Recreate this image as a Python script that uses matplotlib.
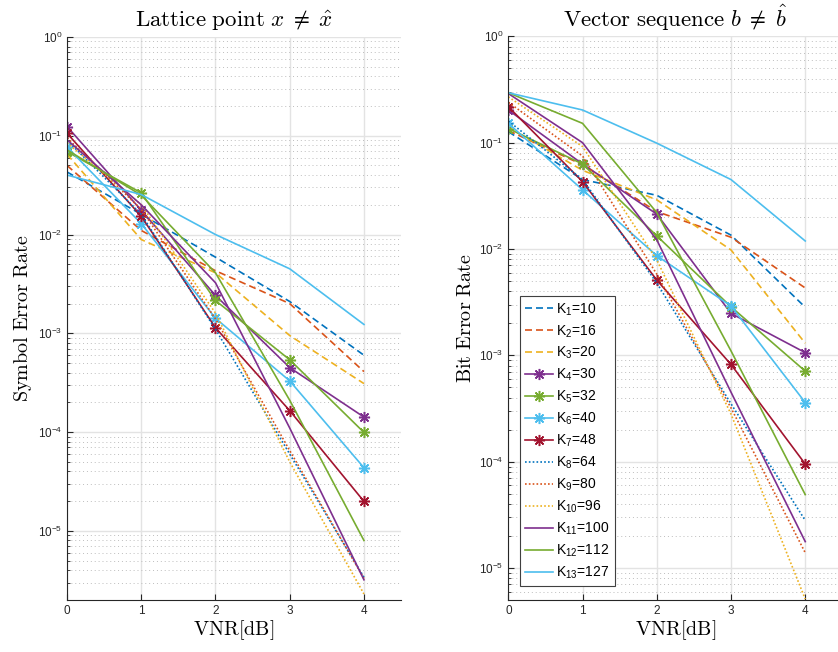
import matplotlib
matplotlib.use('Agg')
import matplotlib.pyplot as plt
from matplotlib.ticker import LogLocator, NullFormatter, FixedLocator

# Eje x: relación volumen-ruido
vnr = [0, 1, 2, 3, 4]
valores_k = [10, 16, 20, 30, 32, 40, 48, 64, 80, 96, 100, 112, 127]

# Tasa de error de símbolo (punto de la red x != x^)
ser_k1 = [0.043, 0.016, 0.0059, 0.0021, 0.0006]
ser_k2 = [0.050, 0.011, 0.0043, 0.0020, 0.00041]
ser_k3 = [0.065, 0.0089, 0.0041, 0.00095, 0.00031]
ser_k4 = [0.124, 0.0176, 0.00242, 0.00045, 0.000142]
ser_k5 = [0.069, 0.0264, 0.00215, 0.00054, 0.0000993]
ser_k6 = [0.077, 0.0129, 0.00142, 0.00033, 0.0000436]
ser_k7 = [0.106, 0.0153, 0.00114, 0.000165, 0.0000199]
ser_k8 = [0.090, 0.016, 0.0011, 0.00006, 0.0000034]
ser_k9 = [0.095, 0.018, 0.0014, 0.000065, 0.0000033]
ser_k10 = [0.085, 0.020, 0.0016, 0.00005, 0.0000023]
ser_k11 = [0.091, 0.020, 0.00325, 0.00011, 0.0000032]
ser_k12 = [0.072, 0.025, 0.0041, 0.00021, 0.000008]
ser_k13 = [0.040, 0.0254, 0.0100, 0.0045, 0.00123]

# Tasa de error de bit (secuencia de vectores b != b^)
ber_k1 = [0.127, 0.045, 0.032, 0.0135, 0.00283]
ber_k2 = [0.130, 0.062, 0.0225, 0.0129, 0.0043]
ber_k3 = [0.140, 0.055, 0.029, 0.0098, 0.0013]
ber_k4 = [0.203, 0.063, 0.0213, 0.00248, 0.00106]
ber_k5 = [0.136, 0.063, 0.0133, 0.00286, 0.00071]
ber_k6 = [0.152, 0.036, 0.00865, 0.00291, 0.00036]
ber_k7 = [0.218, 0.043, 0.0051, 0.00082, 0.000095]
ber_k8 = [0.160, 0.045, 0.0048, 0.00035, 0.000028]
ber_k9 = [0.240, 0.075, 0.0058, 0.00032, 0.0000139]
ber_k10 = [0.270, 0.092, 0.0079, 0.00028, 0.0000051]
ber_k11 = [0.290, 0.100, 0.0122, 0.00045, 0.0000177]
ber_k12 = [0.295, 0.152, 0.022, 0.0011, 0.000049]
ber_k13 = [0.295, 0.203, 0.099, 0.045, 0.0119]

ser = [ser_k1, ser_k2, ser_k3, ser_k4, ser_k5, ser_k6, ser_k7,
       ser_k8, ser_k9, ser_k10, ser_k11, ser_k12, ser_k13]
ber = [ber_k1, ber_k2, ber_k3, ber_k4, ber_k5, ber_k6, ber_k7,
       ber_k8, ber_k9, ber_k10, ber_k11, ber_k12, ber_k13]

# colores por defecto de MATLAB
azul, naranja, amarillo = '#0072BD', '#D95319', '#EDB120'
morado, verde, celeste, rojo = '#7E2F8E', '#77AC30', '#4DBEEE', '#A2142F'
colores = [azul, naranja, amarillo, morado, verde, celeste, rojo,
           azul, naranja, amarillo, morado, verde, celeste]
guion = (0, (4.2, 2.4))
punto = (0, (1, 1.3))
estilos = [guion] * 3 + ['-'] * 4 + [punto] * 3 + ['-'] * 3
marcas = ['None'] * 3 + [(8, 2, 0)] * 4 + ['None'] * 6

plt.rcParams['font.family'] = ['Liberation Sans', 'DejaVu Sans']
plt.rcParams['mathtext.fontset'] = 'custom'
plt.rcParams['mathtext.rm'] = 'Liberation Sans'
plt.rcParams['mathtext.it'] = 'Liberation Sans:italic'

fig = plt.figure(figsize=(8.38, 6.52), dpi=100)
ax1 = fig.add_axes([0.080, 0.0798, 0.3986, 0.8635])
ax2 = fig.add_axes([0.6066, 0.0798, 0.3986, 0.8644])


def dibujar(ax, datos, ymin, titulo, etiqueta_y):
    for i, y in enumerate(datos):
        ax.semilogy(vnr, y, color=colores[i], linestyle=estilos[i], lw=1.2,
                    marker=marcas[i], markersize=8, markeredgewidth=1.1,
                    label='K$_{%d}$=%d' % (i + 1, valores_k[i]))
    ax.set_xlim(0, 4.5)
    ax.set_ylim(ymin, 1)
    ax.xaxis.set_major_locator(FixedLocator([0, 1, 2, 3, 4]))
    ax.yaxis.set_major_locator(LogLocator(base=10, numticks=12))
    ax.yaxis.set_minor_locator(LogLocator(base=10, subs=range(2, 10), numticks=12))
    ax.yaxis.set_minor_formatter(NullFormatter())
    ax.set_axisbelow(True)
    ax.grid(True, which='major', color='#e3e3e3', lw=1.0, linestyle='-')
    ax.yaxis.grid(True, which='minor', color='#bdbdbd', lw=0.7, linestyle=(0, (1, 3)))
    for lado in ['top', 'right']:
        ax.spines[lado].set_visible(False)
    for lado in ['left', 'bottom']:
        ax.spines[lado].set_color('#262626')
        ax.spines[lado].set_linewidth(0.8)
    ax.tick_params(which='both', direction='in', colors='#262626', labelsize=8.5)
    ax.tick_params(which='major', length=4)
    ax.tick_params(which='minor', length=2.5)
    ax.set_title(titulo, math_fontfamily='cm', fontsize=16.5, pad=7)
    ax.set_xlabel(r'$\mathrm{VNR[dB]}$', math_fontfamily='cm', fontsize=14.5, labelpad=1)
    ax.set_ylabel(etiqueta_y, math_fontfamily='cm', fontsize=14.5, labelpad=3)


dibujar(ax1, ser, 2e-6, r'$\mathrm{Lattice\ point}\ x \;\neq\; \hat{x}$',
        r'$\mathrm{Symbol\ Error\ Rate}$')
dibujar(ax2, ber, 5e-6, r'$\mathrm{Vector\ sequence}\ b \;\neq\; \hat{b}$',
        r'$\mathrm{Bit\ Error\ Rate}$')

leyenda = ax2.legend(loc='lower left', bbox_to_anchor=(0.036, 0.025), borderaxespad=0,
                     fontsize=10, handlelength=2.0, handletextpad=0.25, labelspacing=0.4,
                     fancybox=False, framealpha=1, edgecolor='#404040', numpoints=1,
                     borderpad=0.35)
leyenda.get_frame().set_linewidth(0.8)

fig.savefig('out.png', dpi=100)
